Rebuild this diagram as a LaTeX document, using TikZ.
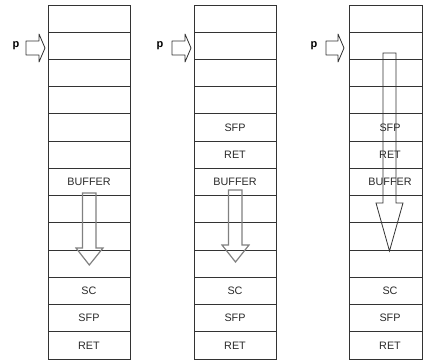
\documentclass[tikz,border=0pt]{standalone}
\usepackage{fontspec}
\setmainfont{Liberation Sans}
\definecolor{gridline}{HTML}{333333}
\definecolor{lbltext}{HTML}{2A2A2A}
\definecolor{grayarrow}{HTML}{808080}
\definecolor{darkarrow}{HTML}{333333}
\begin{document}
\begin{tikzpicture}[x=1pt,y=-1pt,
  cellline/.style={draw=gridline, line width=0.9pt},
  lbl/.style={inner sep=0pt, text=lbltext, font=\fontsize{10.8}{12}\selectfont},
  plbl/.style={inner sep=0pt, text=black, font=\fontsize{11}{12}\selectfont\bfseries},
  parrow/.style={draw=gridline, line width=0.8pt, line join=round},
  grayblock/.style={draw=grayarrow, line width=1.2pt, line join=miter},
  darkblock/.style={draw=darkarrow, line width=0.8pt, line join=miter}]
\useasboundingbox (0,0) rectangle (423,360);
\def\rh{27.23}
% stack columns
\foreach \xl/\xr in {48/130, 194/276, 349/422} {
  \draw[cellline] (\xl,5) rectangle (\xr,{5+13*\rh});
  \foreach \i in {1,...,12} {
    \draw[cellline] (\xl,{5+\i*\rh}) -- (\xr,{5+\i*\rh});
  }
}
% labels, column 1
\node[lbl] (a7)  at (89,{5+6.5*\rh}) {BUFFER};
\node[lbl] (a11) at (89,{5+10.5*\rh}) {SC};
\node[lbl] (a12) at (89,{5+11.5*\rh}) {SFP};
\node[lbl] (a13) at (89,{5+12.5*\rh}) {RET};
% labels, columns 2 and 3
\foreach \cx/\c in {235/b, 390/c} {
  \node[lbl] (\c5)  at (\cx,{5+4.5*\rh}) {SFP};
  \node[lbl] (\c6)  at (\cx,{5+5.5*\rh}) {RET};
  \node[lbl] (\c7)  at (\cx,{5+6.5*\rh}) {BUFFER};
  \node[lbl] (\c11) at (\cx,{5+10.5*\rh}) {SC};
  \node[lbl] (\c12) at (\cx,{5+11.5*\rh}) {SFP};
  \node[lbl] (\c13) at (\cx,{5+12.5*\rh}) {RET};
}
% p pointers
\node[plbl] (pa) at (16,46) {p};
\node[plbl] (pb) at (160,46) {p};
\node[plbl] (pc) at (314,46) {p};
\draw[parrow] (26,41) -- (39,41) -- (39,34) -- (45,48) -- (39,62) -- (39,55) -- (26,55) -- cycle;
\draw[parrow] (172,41) -- (185,41) -- (185,34) -- (191,48) -- (185,62) -- (185,55) -- (172,55) -- cycle;
\draw[parrow] (326,41) -- (338,41) -- (338,34) -- (344,48) -- (338,62) -- (338,55) -- (326,55) -- cycle;
% block arrows
\draw[grayblock] (82.5,193) -- (96,193) -- (96,248) -- (103,248) -- (89.3,265) -- (76,248) -- (82.5,248) -- cycle;
\draw[grayblock] (228.5,190) -- (242,190) -- (242,245) -- (249,245) -- (235.5,262) -- (222,245) -- (228.5,245) -- cycle;
\draw[darkblock] (383,53) -- (396,53) -- (396,203) -- (403,203) -- (389.5,251) -- (376,203) -- (383,203) -- cycle;
\end{tikzpicture}
\end{document}
